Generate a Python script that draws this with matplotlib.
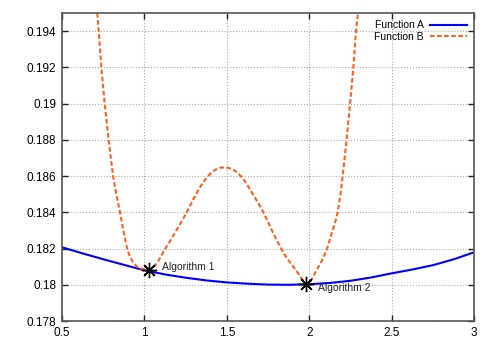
import matplotlib
matplotlib.use("Agg")
import matplotlib.pyplot as plt
from matplotlib.ticker import FormatStrFormatter, MultipleLocator

plt.rcParams['font.family'] = ['Liberation Sans', 'DejaVu Sans']

# Function A
xA = [0.5, 0.625, 0.75, 0.875, 1.0, 1.125, 1.25, 1.375, 1.5, 1.625, 1.75,
      1.875, 2.0, 2.125, 2.25, 2.375, 2.5, 2.625, 2.75, 2.875, 3.0]
yA = [0.18207, 0.18173, 0.18141, 0.18110, 0.18080, 0.18057, 0.18039, 0.18024,
      0.18013, 0.18006, 0.18001, 0.18000, 0.18003, 0.18010, 0.18022, 0.18040,
      0.18063, 0.18084, 0.18108, 0.18140, 0.18179]

# Function B
xB = [0.705, 0.714, 0.723, 0.739, 0.759, 0.783, 0.810, 0.830, 0.852, 0.870,
      0.893, 0.908, 0.930, 0.955, 0.975, 0.993, 1.010, 1.024, 1.040, 1.057,
      1.075, 1.095, 1.120, 1.155, 1.175, 1.215, 1.257, 1.300, 1.337, 1.370,
      1.398, 1.430, 1.460, 1.495, 1.530, 1.560, 1.590, 1.620, 1.650, 1.690,
      1.722, 1.752, 1.782, 1.810, 1.833, 1.864, 1.895, 1.924, 1.950, 1.970,
      1.985, 2.000, 2.020, 2.045, 2.075, 2.106, 2.130, 2.153, 2.173, 2.190,
      2.203, 2.227, 2.248, 2.268, 2.284, 2.296, 2.305]
yB = [0.19600, 0.19500, 0.19400, 0.19200, 0.19000, 0.18800, 0.18600, 0.18500,
      0.18400, 0.18310, 0.18210, 0.18165, 0.18125, 0.18100, 0.18090, 0.18087,
      0.18084, 0.18083, 0.18088, 0.18100, 0.18118, 0.18148, 0.18190, 0.18240,
      0.18270, 0.18333, 0.18400, 0.18478, 0.18538, 0.18582, 0.18612, 0.18635,
      0.18646, 0.18648, 0.18640, 0.18622, 0.18595, 0.18558, 0.18512, 0.18452,
      0.18400, 0.18342, 0.18284, 0.18235, 0.18195, 0.18147, 0.18110, 0.18075,
      0.18040, 0.18017, 0.18004, 0.18008, 0.18038, 0.18081, 0.18130, 0.18192,
      0.18265, 0.18330, 0.18400, 0.18500, 0.18600, 0.18800, 0.19000, 0.19200,
      0.19400, 0.19500, 0.19600]

# highlighted optima
ptX = [1.03, 1.98]
ptY = [0.18081, 0.18003]
ptLabels = ['Algorithm 1', 'Algorithm 2']

fig = plt.figure(figsize=(4.91, 3.43), dpi=100)
ax = fig.add_axes([62/491, 1 - 321/343, 412/491, 308/343])

ax.plot(xA, yA, color='#0000ff', lw=1.5, label='Function A')
ax.plot(xB, yB, color='#ff6020', lw=1.5, ls=(0, (2.2, 1.2)), label='Function B')
ax.plot(ptX, ptY, ls='none', marker=(8, 2, 0), ms=11, mew=1.0, color='black',
        zorder=5)
ax.annotate(ptLabels[0], (ptX[0], ptY[0]), xytext=(9, 2), textcoords='offset points',
            fontsize=7.5, va='center', color='#222222')
ax.annotate(ptLabels[1], (ptX[1], ptY[1]), xytext=(9, -3), textcoords='offset points',
            fontsize=7.5, va='center', color='#222222')

ax.set_xlim(0.5, 3)
ax.set_ylim(0.178, 0.195)
ax.xaxis.set_major_locator(MultipleLocator(0.5))
ax.yaxis.set_major_locator(MultipleLocator(0.002))
ax.xaxis.set_major_formatter(FormatStrFormatter('%g'))
ax.yaxis.set_major_formatter(FormatStrFormatter('%g'))
ax.tick_params(direction='in', length=4, width=1, color='#222222', labelsize=8.5,
               top=True, right=True, pad=4)
ax.grid(True, color='#aaaaaa', ls=':', lw=0.8)
for s in ax.spines.values():
    s.set_color('#555555')
    s.set_linewidth(1.2)

ax.legend(loc='upper right', frameon=False, markerfirst=False, fontsize=7.5,
          handlelength=3.5, handletextpad=0.6, labelspacing=0.15,
          borderaxespad=0.3)

plt.savefig('out.png', dpi=100)
plt.close()
